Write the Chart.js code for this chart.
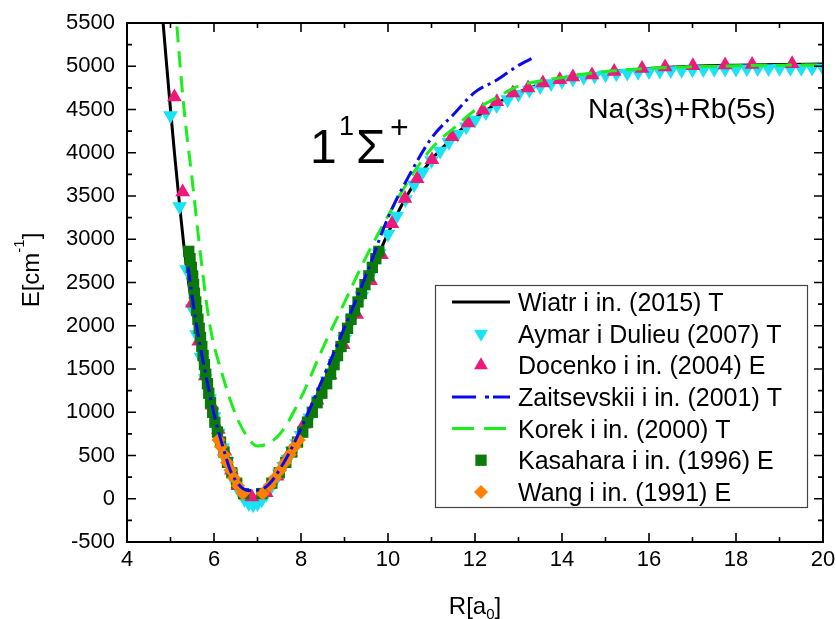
<!DOCTYPE html>
<html>
<head>
<meta charset="utf-8">
<script src="https://cdn.jsdelivr.net/npm/chart.js@4.4.1/dist/chart.umd.min.js"></script>
<style>
  html, body { margin: 0; padding: 0; background: #fff; }
  #wrap { width: 836px; height: 619px; }
</style>
</head>
<body>
<div id="wrap"><canvas id="pec" width="836" height="619"></canvas></div>
<script>
'use strict';

/* ── dane (R w a0, E w cm^-1) ── */
const X_TICKS = [4, 6, 8, 10, 12, 14, 16, 18, 20];
const Y_TICKS = [-500, 0, 500, 1000, 1500, 2000, 2500, 3000, 3500, 4000, 4500, 5000, 5500];

const wiatrR = [4.78, 4.83, 4.9, 5.0, 5.1, 5.2, 5.3, 5.4, 5.5, 5.6, 5.7, 5.8, 5.9, 6.0, 6.1, 6.2, 6.3, 6.4, 6.5, 6.6,
                6.7, 6.8, 6.9, 7.0, 7.1, 7.2, 7.3, 7.4, 7.5, 7.6, 7.7, 7.8, 7.9, 8.0, 8.2, 8.4, 8.6, 8.8, 9.0, 9.2,
                9.4, 9.6, 9.8, 10.0, 10.2, 10.4, 10.6, 10.8, 11.0, 11.2, 11.4, 11.6, 11.8, 12.0, 12.5, 13.0, 13.5, 14.0, 14.5, 15.0,
                15.5, 16.0, 17.0, 18.0, 19.0, 20.0];
const wiatrE = [5800, 5500, 5080, 4500, 3950, 3440, 2960, 2560, 2220, 1920, 1650, 1400, 1170, 960, 770, 600, 440, 300, 180, 80,
                -5, -60, -75, -60, -15, 55, 130, 210, 295, 380, 465, 555, 645, 740, 940, 1150, 1370, 1600, 1850, 2100,
                2350, 2600, 2840, 3070, 3280, 3470, 3640, 3790, 3920, 4030, 4130, 4230, 4320, 4400, 4570, 4700, 4790, 4850, 4895, 4930,
                4955, 4975, 5000, 5012, 5020, 5025];

const aymarR = [5.0, 5.21, 5.37,
                5.5, 5.6, 5.7, 5.8, 5.9, 6.0, 6.1, 6.2, 6.3, 6.4, 6.5, 6.6, 6.7, 6.8, 6.9, 7.0, 7.1, 7.2, 7.3, 7.4, 7.5, 7.6, 7.7, 7.8, 7.9, 8.0,
                8.2, 8.4, 8.6, 8.8, 9.0, 9.2, 9.4, 9.6, 9.8, 10.0, 10.2, 10.4, 10.6, 10.8, 11.0, 11.2, 11.4, 11.6, 11.8, 12.0,
                12.25, 12.5, 12.75, 13.0, 13.25, 13.5, 13.75, 14.0, 14.25, 14.5, 14.75, 15.0, 15.25, 15.5, 15.75, 16.0,
                16.25, 16.5, 16.75, 17.0, 17.25, 17.5, 17.75, 18.0, 18.25, 18.5, 18.75, 19.0, 19.25, 19.5, 19.75, 20.0];
const aymarE = [4430, 3380, 2650,
                2200, 1900, 1640, 1390, 1160, 950, 760, 590, 430, 290, 170, 70, -5, -55, -70, -55, -12, 52, 125, 205, 290, 375, 460, 550, 640, 735,
                935, 1145, 1365, 1595, 1845, 2095, 2345, 2595, 2835, 3060, 3270, 3460, 3630, 3780, 3910, 4020, 4120, 4215, 4300, 4380,
                4465, 4545, 4615, 4675, 4725, 4765, 4800, 4828, 4852, 4872, 4888, 4902, 4913, 4923, 4932, 4940,
                4946, 4951, 4955, 4959, 4962, 4965, 4967, 4969, 4971, 4973, 4975, 4976, 4977, 4978, 4979, 4980];

const docenkoR = [5.09, 5.28, 5.5, 5.65, 5.8, 5.95, 6.1, 6.25, 6.4, 6.55, 6.87, 7.2, 7.45, 7.75, 8.07, 8.37, 8.67, 8.97, 9.28, 9.6,
                  9.85, 10.09, 10.39, 10.67, 11.01, 11.47, 11.84, 12.18, 12.5, 12.87, 13.22, 13.56, 13.95, 14.25, 14.69, 15.2,
                  15.84, 16.37, 17.01, 17.75, 18.37, 19.29];
const docenkoE = [4645, 3546, 2260, 1820, 1420, 1080, 800, 550, 330, 150, 20, 70, 260, 540, 860, 1140, 1430, 1780, 2130, 2520,
                  2820, 3180, 3470, 3700, 3920, 4185, 4345, 4490, 4590, 4690, 4750, 4805, 4845, 4875, 4900, 4940,
                  4975, 4990, 5005, 5015, 5020, 5030];

const zaitsevR = [5.4, 5.6, 5.8, 6.0, 6.2, 6.4, 6.8, 7.2, 7.6, 8.0, 8.5, 9.0, 9.5, 10.0, 10.5, 11.0, 11.5, 12.0, 12.5, 13.0, 13.35];
const zaitsevE = [2680, 2000, 1460, 980, 610, 300, 95, 140, 414, 810, 1390, 1980, 2590, 3250, 3750, 4170, 4440, 4700, 4840, 5010, 5100];

const korekR = [5.1, 5.3, 5.5, 5.7, 5.9, 6.2, 6.5, 6.8, 7.0, 7.5, 8.0, 8.5, 9.0, 9.5, 10.0, 10.5, 11.0, 11.5, 12.0, 12.5,
                13.0, 14.0, 15.0, 16.0, 17.0, 18.0, 19.0, 20.0];
const korekE = [5750, 4560, 3680, 2780, 2020, 1420, 970, 690, 610, 740, 1170, 1740, 2270, 2800, 3270, 3700, 4050, 4280, 4490, 4640,
                4770, 4870, 4940, 4975, 4995, 5005, 5012, 5015];

/* Kasahara i Wang: poziomy energii z lewym i prawym punktem zwrotnym */
const kasaharaE    = [60, 180, 300, 420, 540, 655, 770, 885, 1000, 1110, 1220, 1330, 1440, 1550, 1655, 1760, 1865, 1970,
                      2075, 2175, 2275, 2375, 2475, 2575, 2675, 2775, 2860];
const kasaharaRin  = [6.68, 6.52, 6.41, 6.31, 6.23, 6.15, 6.08, 6.02, 5.97, 5.92, 5.88, 5.85, 5.81, 5.78, 5.75, 5.72, 5.69, 5.66,
                      5.63, 5.6, 5.58, 5.55, 5.53, 5.51, 5.48, 5.45, 5.42];
const kasaharaRout = [7.1, 7.33, 7.5, 7.65, 7.79, 7.92, 8.04, 8.15, 8.26, 8.37, 8.48, 8.59, 8.68, 8.76, 8.84, 8.92, 8.99, 9.07,
                      9.15, 9.23, 9.31, 9.39, 9.47, 9.56, 9.64, 9.72, 9.79];

const wangE    = [60, 150, 240, 330, 420, 510, 600, 680];
const wangRin  = [6.66, 6.55, 6.46, 6.38, 6.3, 6.23, 6.16, 6.1];
const wangRout = [7.12, 7.28, 7.4, 7.52, 7.63, 7.74, 7.85, 7.95];

const LABELS = [
  'Wiatr i in. (2015) T',
  'Aymar i Dulieu (2007) T',
  'Docenko i in. (2004) E',
  'Zaitsevskii i in. (2001) T',
  'Korek i in. (2000) T',
  'Kasahara i in. (1996) E',
  'Wang i in. (1991) E',
];

/* ── style ── */
const FONT   = "'Liberation Sans', Arial, sans-serif";
const C_CYAN = '#19e3f5';
const C_PINK = '#ee1a7a';
const C_BLUE = '#0a0aee';
const C_LIME = '#1bef1b';
const C_DKGR = '#0b7a0b';
const C_ORNG = '#ff8000';

Chart.defaults.font.family = FONT;
Chart.defaults.color = '#000';

const pts = (xs, ys) => xs.map((x, i) => ({ x, y: ys[i] }));

const lineSet = (label, data, color, width, dash, order) => ({
  label, data, order,
  showLine: true,
  borderColor: color,
  borderWidth: width,
  borderDash: dash,
  borderCapStyle: 'butt',
  cubicInterpolationMode: 'monotone',
  pointRadius: 0,
});

const pointSet = (label, data, color, style, radius, rotation, order) => ({
  label, data, order,
  showLine: false,
  pointStyle: style,
  pointRadius: radius,
  pointRotation: rotation,
  pointBackgroundColor: color,
  pointBorderColor: color,
  pointBorderWidth: 0,
});

/* order: niższy = rysowany wyżej */
const datasets = [
  lineSet (LABELS[0], pts(wiatrR, wiatrE), '#000', 3, [], 6),
  pointSet(LABELS[1], pts(aymarR, aymarE), C_CYAN, 'triangle', 8.5, 180, 5),
  pointSet(LABELS[2], pts(docenkoR, docenkoE), C_PINK, 'triangle', 8.5, 0, 4),
  lineSet (LABELS[3], pts(zaitsevR, zaitsevE), C_BLUE, 3, [15, 5, 3, 5], 0),
  lineSet (LABELS[4], pts(korekR, korekE), C_LIME, 3, [16, 9], 1),
  pointSet(LABELS[5], pts(kasaharaRin, kasaharaE).concat(pts(kasaharaRout, kasaharaE)), C_DKGR, 'rect', 8, 0, 3),
  pointSet(LABELS[6], pts(wangRin, wangE).concat(pts(wangRout, wangE)), C_ORNG, 'rectRot', 7, 0, 2),
];

const LEGEND_DASH = [[], null, null, [24, 9, 4, 4], [22, 10], null, null];

/* ── rysowanie tekstu z indeksami ── */
function runText(ctx, x, y, parts) {
  let cx = x;
  parts.forEach(p => {
    ctx.font = p.size + 'px ' + FONT;
    ctx.fillText(p.t, cx, y + (p.dy || 0));
    cx += ctx.measureText(p.t).width;
  });
  return cx - x;
}
function textWidth(ctx, parts) {
  let w = 0;
  parts.forEach(p => { ctx.font = p.size + 'px ' + FONT; w += ctx.measureText(p.t).width; });
  return w;
}

/* ── ramka, ticki do środka, opisy, legenda ── */
const decor = {
  id: 'decor',
  afterDraw(chart) {
    const { ctx, chartArea: a, scales: { x, y } } = chart;
    ctx.save();

    // ramka
    ctx.strokeStyle = '#000';
    ctx.lineWidth = 2;
    ctx.strokeRect(a.left, a.top, a.right - a.left, a.bottom - a.top);

    // ticki (major + minor w połowie)
    ctx.lineWidth = 1.6;
    ctx.beginPath();
    X_TICKS.forEach((v, i) => {
      const px = x.getPixelForValue(v);
      ctx.moveTo(px, a.bottom); ctx.lineTo(px, a.bottom - 9);
      ctx.moveTo(px, a.top);    ctx.lineTo(px, a.top + 9);
      if (i < X_TICKS.length - 1) {
        const pm = x.getPixelForValue((v + X_TICKS[i + 1]) / 2);
        ctx.moveTo(pm, a.bottom); ctx.lineTo(pm, a.bottom - 5);
        ctx.moveTo(pm, a.top);    ctx.lineTo(pm, a.top + 5);
      }
    });
    Y_TICKS.forEach((v, i) => {
      const py = y.getPixelForValue(v);
      ctx.moveTo(a.left, py);  ctx.lineTo(a.left + 9, py);
      ctx.moveTo(a.right, py); ctx.lineTo(a.right - 9, py);
      if (i < Y_TICKS.length - 1) {
        const pm = y.getPixelForValue((v + Y_TICKS[i + 1]) / 2);
        ctx.moveTo(a.left, pm);  ctx.lineTo(a.left + 5, pm);
        ctx.moveTo(a.right, pm); ctx.lineTo(a.right - 5, pm);
      }
    });
    ctx.stroke();

    ctx.fillStyle = '#000';
    ctx.textAlign = 'left';
    ctx.textBaseline = 'alphabetic';

    // tytuł osi X
    const xt = [{ t: 'R[a', size: 24 }, { t: '0', size: 15, dy: 5 }, { t: ']', size: 24 }];
    runText(ctx, (a.left + a.right) / 2 - textWidth(ctx, xt) / 2, 614, xt);

    // tytuł osi Y (obrócony)
    const yt = [{ t: 'E[cm', size: 24 }, { t: '-1', size: 15, dy: -15 }, { t: ']', size: 24 }];
    ctx.save();
    ctx.translate(39, 270);
    ctx.rotate(-Math.PI / 2);
    runText(ctx, -textWidth(ctx, yt) / 2, 0, yt);
    ctx.restore();

    // symbol stanu
    ctx.font = '48px ' + FONT; ctx.fillText('1', 310, 163);
    ctx.font = '27px ' + FONT; ctx.fillText('1', 339, 135);
    ctx.font = '48px ' + FONT; ctx.fillText('\u03A3', 356, 163);
    ctx.font = '32px ' + FONT; ctx.fillText('+', 390, 138);

    // asymptota
    ctx.font = '28.5px ' + FONT;
    ctx.fillText('Na(3s)+Rb(5s)', 588, 118);

    // legenda
    ctx.fillStyle = '#fff';
    ctx.fillRect(435, 285, 372, 222);
    ctx.strokeStyle = '#444';
    ctx.lineWidth = 1.2;
    ctx.strokeRect(435.5, 285.5, 372, 222);

    chart.data.datasets.forEach((ds, i) => {
      const cy = 302 + i * 31.65;
      if (ds.showLine) {
        ctx.save();
        ctx.strokeStyle = ds.borderColor;
        ctx.lineWidth = ds.borderWidth;
        ctx.setLineDash(LEGEND_DASH[i] || []);
        ctx.beginPath();
        ctx.moveTo(452, cy); ctx.lineTo(510, cy);
        ctx.stroke();
        ctx.restore();
      } else {
        ctx.fillStyle = ds.pointBackgroundColor;
        ctx.strokeStyle = ds.pointBorderColor;
        Chart.helpers.drawPoint(ctx, {
          pointStyle: ds.pointStyle,
          radius: ds.pointStyle === 'triangle' ? 8 : ds.pointRadius,
          rotation: ds.pointRotation,
          borderWidth: 0,
        }, 481, cy);
      }
      ctx.fillStyle = '#000';
      ctx.font = '25px ' + FONT;
      ctx.fillText(ds.label, 518, cy + 9);
    });

    ctx.restore();
  }
};

new Chart(document.getElementById('pec'), {
  type: 'scatter',
  data: { datasets },
  options: {
    responsive: false,
    animation: false,
    events: [],
    layout: { padding: { top: 23, right: 13, left: 0, bottom: 0 } },
    plugins: { legend: { display: false }, tooltip: { enabled: false } },
    scales: {
      x: {
        type: 'linear',
        min: 4, max: 20,
        afterBuildTicks: s => { s.ticks = X_TICKS.map(v => ({ value: v })); },
        afterFit: s => { s.height = 77; s.paddingLeft = 0; s.paddingRight = 0; },
        grid: { display: false, drawTicks: false },
        border: { display: false },
        ticks: { padding: 5, color: '#000', font: { size: 22 }, callback: v => String(v) },
      },
      y: {
        type: 'linear',
        min: -500, max: 5500,
        afterBuildTicks: s => { s.ticks = Y_TICKS.map(v => ({ value: v })); },
        afterFit: s => { s.width = 127; s.paddingTop = 0; s.paddingBottom = 0; },
        grid: { display: false, drawTicks: false },
        border: { display: false },
        ticks: { padding: 12, color: '#000', font: { size: 22 }, callback: v => String(v) },
      },
    },
  },
  plugins: [decor],
});
</script>
</body>
</html>
